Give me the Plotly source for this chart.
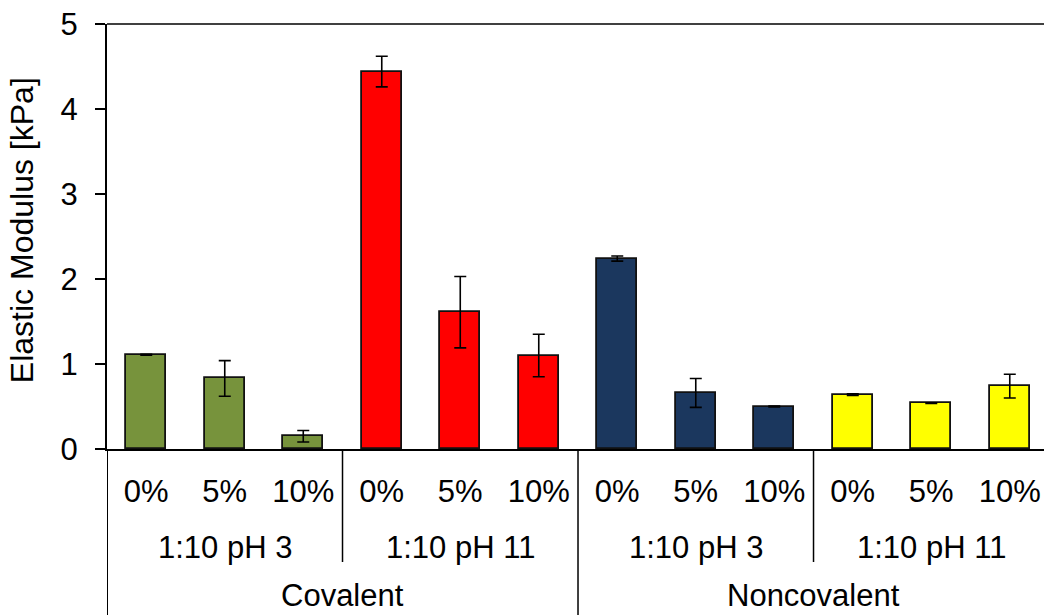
import plotly.graph_objects as go

# ---------------- data ----------------
outer_groups = ["Covalent", "Noncovalent"]
inner_groups = ["1:10 pH 3", "1:10 pH 11", "1:10 pH 3", "1:10 pH 11"]
concentrations = ["0%", "5%", "10%"]

cov_ph3 = [1.11, 0.83, 0.15]
cov_ph3_err = [0.005, 0.21, 0.068]
cov_ph11 = [4.44, 1.61, 1.10]
cov_ph11_err = [0.18, 0.42, 0.25]
non_ph3 = [2.24, 0.66, 0.50]
non_ph3_err = [0.03, 0.17, 0.005]
non_ph11 = [0.64, 0.54, 0.74]
non_ph11_err = [0.01, 0.005, 0.14]

y_ticks = [0, 1, 2, 3, 4, 5]
y_title = "Elastic Modulus [kPa]"

series = [cov_ph3, cov_ph11, non_ph3, non_ph11]
errors = [cov_ph3_err, cov_ph11_err, non_ph3_err, non_ph11_err]
colors = ["#77933C", "#FF0000", "#1B375E", "#FFFF00"]

FONT = "Liberation Sans, Arial, sans-serif"
FS = 31

fig = go.Figure()
n = len(concentrations)
positions_all = []
for gi, (vals, errs, col) in enumerate(zip(series, errors, colors)):
    xs = [gi * n + j for j in range(n)]
    positions_all += xs
    fig.add_trace(go.Bar(
        x=xs, y=vals, width=0.51,
        marker=dict(color=col, line=dict(color="#111111", width=1.8)),
        error_y=dict(type="data", array=errs, visible=True,
                     color="#000000", thickness=1.6, width=6),
        showlegend=False,
    ))

H = 425.0  # plot-area height in px (for paper offsets)

def py(px_below):
    return -px_below / H

shapes = []
# top border line
shapes.append(dict(type="line", xref="paper", yref="paper", x0=0, x1=1, y0=1, y1=1,
                   line=dict(color="#404040", width=2)))
# left axis extension below plot
shapes.append(dict(type="line", xref="x", yref="paper", x0=-0.5, x1=-0.5, y0=0, y1=py(170),
                   line=dict(color="#000000", width=2)))
# separators between inner groups
n_inner = len(inner_groups)
for k in range(1, n_inner):
    xb = k * n - 0.5
    long_sep = (k * n) % (n * 2) == 0
    shapes.append(dict(type="line", xref="x", yref="paper", x0=xb, x1=xb, y0=0,
                       y1=py(170) if long_sep else py(113),
                       line=dict(color="#000000", width=1.5)))

annotations = []
for k, g in enumerate(inner_groups):
    annotations.append(dict(text=g, x=k * n + (n - 1) / 2, y=py(98), xref="x", yref="paper",
                            showarrow=False, xanchor="center", yanchor="middle",
                            font=dict(family=FONT, size=FS, color="#000000")))
per_outer = n_inner // len(outer_groups)
for k, g in enumerate(outer_groups):
    annotations.append(dict(text=g, x=k * n * per_outer + (n * per_outer - 1) / 2, y=py(146),
                            xref="x", yref="paper", showarrow=False,
                            xanchor="center", yanchor="middle",
                            font=dict(family=FONT, size=FS, color="#000000")))
annotations.append(dict(text=y_title, x=-85 / 937.0, y=0.515, xref="paper", yref="paper",
                        textangle=-90, showarrow=False, xanchor="center", yanchor="middle",
                        font=dict(family=FONT, size=FS + 1, color="#000000")))

fig.update_layout(
    width=1044, height=615,
    margin=dict(l=107, r=0, t=24, b=166),
    paper_bgcolor="white", plot_bgcolor="white",
    font=dict(family=FONT, size=FS, color="#000000"),
    bargap=0,
    shapes=shapes,
    annotations=annotations,
    xaxis=dict(
        range=[-0.5, 11.436],
        tickmode="array", tickvals=positions_all, ticktext=concentrations * n_inner,
        ticks="", showline=True, linecolor="#000000", linewidth=2,
        showgrid=False, zeroline=False, ticklabelstandoff=14,
        tickfont=dict(family=FONT, size=FS, color="#000000"),
    ),
    yaxis=dict(
        range=[0, 5], tickmode="array", tickvals=y_ticks,
        ticks="outside", ticklen=10, tickwidth=2, tickcolor="#000000",
        showline=True, linecolor="#000000", linewidth=2,
        showgrid=False, zeroline=False, ticklabelstandoff=11,
        tickfont=dict(family=FONT, size=FS, color="#000000"),
    ),
)

fig.write_html("out.html")
